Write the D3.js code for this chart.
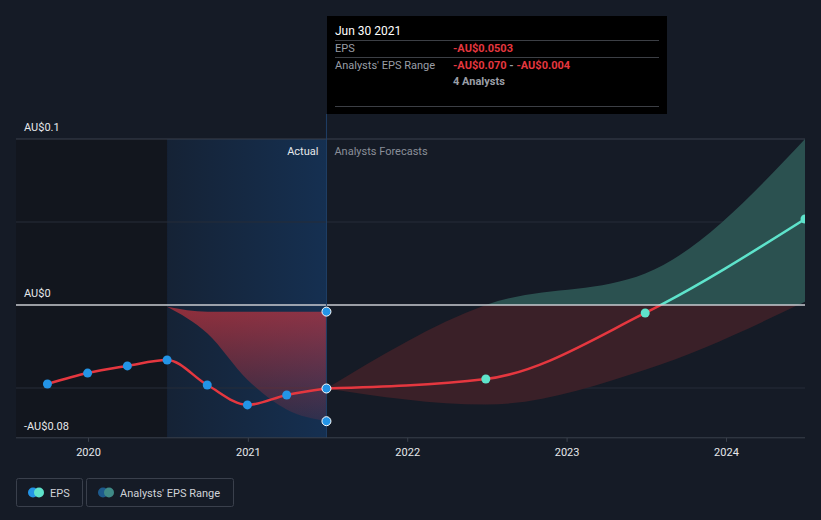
<!DOCTYPE html>
<html>
<head>
<meta charset="utf-8">
<script src="https://cdn.jsdelivr.net/npm/d3@7"></script>
<style>
	body { margin: 0; background: #151b26; }
	svg { display: block; font-family: Roboto, 'Noto Sans', sans-serif; }
</style>
</head>
<body>
<svg id="chart" width="821" height="520"></svg>
<script>
// actual EPS, quarterly
const actualDates = ['2019-09-30', '2019-12-31', '2020-03-31', '2020-06-30', '2020-09-30', '2020-12-31', '2021-03-31', '2021-06-30'];
const actualEps = [-0.0476, -0.041, -0.0367, -0.0331, -0.0482, -0.0602, -0.0542, -0.0503];

// past analysts range
const pastRangeDates = ['2020-06-30', '2020-09-30', '2020-12-31', '2021-03-31', '2021-06-30'];
const pastLow = [-0.001, -0.017, -0.045, -0.063, -0.070];
const pastHigh = [-0.001, -0.004, -0.004, -0.004, -0.004];

// forecasts
const forecastDates = ['2021-06-30', '2022-06-30', '2023-06-30', '2024-06-30'];
const forecastEps = [-0.0503, -0.0446, -0.0048, 0.0518];
const forecastLow = [-0.0503, -0.060, -0.039, 0.002];
const forecastHigh = [-0.0503, 0.000, 0.019, 0.100];

const yearTicks = ['2020', '2021', '2022', '2023', '2024'];
const gridValues = [0.1, 0.05, -0.05];
const labelValues = [0.1, 0, -0.08];

const parse = d3.timeParse('%Y-%m-%d');
const fmtAU = v => v === 0 ? 'AU$0' : (v < 0 ? '-' : '') + 'AU$' + Math.abs(v);

const left = 16, right = 805;
const x = d3.scaleTime()
	.domain([parse('2019-07-20'), parse('2024-06-30')])
	.range([left, right]);
const y = d3.scaleLinear().domain([-0.08, 0.1]).range([437.8, 139]);

const svg = d3.select('#chart');
const defs = svg.append('defs');

defs.append('clipPath').attr('id', 'plot')
	.append('rect').attr('x', left).attr('y', 100).attr('width', right - left).attr('height', 338);
defs.append('clipPath').attr('id', 'above')
	.append('rect').attr('x', left).attr('y', 0).attr('width', right - left).attr('height', y(0));
defs.append('clipPath').attr('id', 'below')
	.append('rect').attr('x', left).attr('y', y(0)).attr('width', right - left).attr('height', 300);

const blueGrad = defs.append('linearGradient').attr('id', 'blueGrad');
blueGrad.append('stop').attr('offset', '0%').attr('stop-color', '#1565c0').attr('stop-opacity', 0.1);
blueGrad.append('stop').attr('offset', '100%').attr('stop-color', '#1565c0').attr('stop-opacity', 0.28);

const redGrad = defs.append('linearGradient').attr('id', 'redGrad')
	.attr('gradientUnits', 'userSpaceOnUse')
	.attr('x1', 0).attr('x2', 0).attr('y1', y(0)).attr('y2', y(-0.07));
redGrad.append('stop').attr('offset', '0%').attr('stop-color', '#e5373f').attr('stop-opacity', 0.6);
redGrad.append('stop').attr('offset', '100%').attr('stop-color', '#e5373f').attr('stop-opacity', 0.12);

// background bands
const splitDate = parse('2020-06-30');
const nowDate = parse('2021-06-30');
svg.append('rect')
	.attr('x', left).attr('y', y(0.1))
	.attr('width', x(splitDate) - left).attr('height', y(-0.08) - y(0.1))
	.attr('fill', '#12161e');
svg.append('rect')
	.attr('x', x(splitDate)).attr('y', y(0.1))
	.attr('width', x(nowDate) - x(splitDate)).attr('height', y(-0.08) - y(0.1))
	.attr('fill', 'url(#blueGrad)');

// grid
svg.selectAll('.grid')
	.data(gridValues)
	.enter().append('line')
		.attr('x1', left).attr('x2', right)
		.attr('y1', d => y(d)).attr('y2', d => y(d))
		.attr('stroke', d => d === 0.1 ? '#3a404c' : '#262c38')
		.attr('stroke-width', 1);

// ranges
const toRows = (dates, lo, hi) => dates.map((d, i) => ({ date: parse(d), lo: lo[i], hi: hi[i] }));
const area = d3.area()
	.x(d => x(d.date))
	.y0(d => y(d.lo))
	.y1(d => y(d.hi))
	.curve(d3.curveMonotoneX);

const plot = svg.append('g').attr('clip-path', 'url(#plot)');

plot.append('path')
	.datum(toRows(pastRangeDates, pastLow, pastHigh))
	.attr('d', area)
	.attr('fill', 'url(#redGrad)');

const fRows = toRows(forecastDates, forecastLow, forecastHigh);
plot.append('g').attr('clip-path', 'url(#above)')
	.append('path').datum(fRows).attr('d', area).attr('fill', '#2b5150');
plot.append('g').attr('clip-path', 'url(#below)')
	.append('path').datum(fRows).attr('d', area).attr('fill', '#3a2028');

// zero line
svg.append('line')
	.attr('x1', left).attr('x2', right)
	.attr('y1', y(0)).attr('y2', y(0))
	.attr('stroke', '#c9cbd0').attr('stroke-width', 1.5);

// now line
svg.append('line')
	.attr('x1', x(nowDate)).attr('x2', x(nowDate))
	.attr('y1', 114).attr('y2', y(-0.08))
	.attr('stroke', '#1f3f66').attr('stroke-width', 1);

// x axis
svg.append('line')
	.attr('x1', left).attr('x2', right)
	.attr('y1', y(-0.08)).attr('y2', y(-0.08))
	.attr('stroke', '#3a404c');
const xAxis = svg.append('g')
	.attr('transform', `translate(0,${y(-0.08)})`)
	.call(d3.axisBottom(x)
		.tickValues(yearTicks.map(t => parse(t + '-01-01')))
		.tickFormat(d3.timeFormat('%Y'))
		.tickSize(4)
		.tickPadding(6));
xAxis.select('.domain').remove();
xAxis.selectAll('line').attr('stroke', '#3a404c');
xAxis.selectAll('text').attr('fill', '#e6e8eb').attr('font-size', 11).attr('font-family', 'Roboto');

// y labels
svg.selectAll('.ylab')
	.data(labelValues)
	.enter().append('text')
		.attr('x', 24).attr('y', d => y(d) - 8)
		.attr('fill', '#e6e8eb').attr('font-size', 11)
		.text(fmtAU);

svg.append('text').attr('x', x(nowDate) - 8).attr('y', 155)
	.attr('text-anchor', 'end').attr('fill', '#e6e8eb').attr('font-size', 11).text('Actual');
svg.append('text').attr('x', x(nowDate) + 8).attr('y', 155)
	.attr('fill', '#8a8f99').attr('font-size', 11).text('Analysts Forecasts');

// eps lines
const line = d3.line().x(d => x(d.date)).y(d => y(d.v)).curve(d3.curveMonotoneX);
const aRows = actualDates.map((d, i) => ({ date: parse(d), v: actualEps[i] }));
const feRows = forecastDates.map((d, i) => ({ date: parse(d), v: forecastEps[i] }));

plot.append('path').datum(aRows).attr('d', line)
	.attr('fill', 'none').attr('stroke', '#e5373f').attr('stroke-width', 2.5);
plot.append('g').attr('clip-path', 'url(#below)')
	.append('path').datum(feRows).attr('d', line)
	.attr('fill', 'none').attr('stroke', '#e5373f').attr('stroke-width', 2.5);
plot.append('g').attr('clip-path', 'url(#above)')
	.append('path').datum(feRows).attr('d', line)
	.attr('fill', 'none').attr('stroke', '#5ee3cb').attr('stroke-width', 2.5);

// dots
plot.selectAll('.adot')
	.data(aRows.slice(0, -1))
	.enter().append('circle')
		.attr('cx', d => x(d.date)).attr('cy', d => y(d.v)).attr('r', 4.5)
		.attr('fill', '#2394e6');
plot.selectAll('.fdot')
	.data(feRows.slice(1))
	.enter().append('circle')
		.attr('cx', d => x(d.date)).attr('cy', d => y(d.v)).attr('r', 4.5)
		.attr('fill', '#5ee3cb');
const nowVals = [pastHigh[pastHigh.length - 1], actualEps[actualEps.length - 1], pastLow[pastLow.length - 1]];
svg.selectAll('.ndot')
	.data(nowVals)
	.enter().append('circle')
		.attr('cx', x(nowDate)).attr('cy', d => y(d)).attr('r', 4.5)
		.attr('fill', '#2394e6').attr('stroke', '#ffffff').attr('stroke-width', 1);

// tooltip
const tip = svg.append('g');
tip.append('rect').attr('x', 327).attr('y', 16).attr('width', 340).attr('height', 98).attr('fill', '#000');
tip.append('text').attr('x', 335).attr('y', 35).attr('fill', '#fff').attr('font-size', 12).text('Jun 30 2021');
[40, 57, 106].forEach(ly => {
	tip.append('line').attr('x1', 335).attr('x2', 659).attr('y1', ly + 0.5).attr('y2', ly + 0.5)
		.attr('stroke', '#3c3f45');
});
tip.append('text').attr('x', 335).attr('y', 52).attr('fill', '#9a9ea6').attr('font-size', 11).text('EPS');
tip.append('text').attr('x', 453).attr('y', 52).attr('fill', '#e5373f').attr('font-size', 11)
	.attr('font-weight', 'bold').text(fmtAU(actualEps[actualEps.length - 1]));
tip.append('text').attr('x', 335).attr('y', 69).attr('fill', '#9a9ea6').attr('font-size', 11).text("Analysts' EPS Range");
const rangeText = tip.append('text').attr('x', 453).attr('y', 69).attr('font-size', 11).attr('font-weight', 'bold');
rangeText.append('tspan').attr('fill', '#e5373f').text('-AU$' + Math.abs(pastLow[pastLow.length - 1]).toFixed(3));
rangeText.append('tspan').attr('fill', '#9a9ea6').text(' - ');
rangeText.append('tspan').attr('fill', '#e5373f').text('-AU$' + Math.abs(pastHigh[pastHigh.length - 1]).toFixed(3));
tip.append('text').attr('x', 453).attr('y', 85).attr('fill', '#9a9ea6').attr('font-size', 11)
	.attr('font-weight', 'bold').text('4 Analysts');

// legend
const legendItems = [
	{ label: 'EPS', x: 16, w: 66, c1: '#2394e6', c2: '#5ee3cb' },
	{ label: "Analysts' EPS Range", x: 86, w: 147, c1: '#1d5a8c', c2: '#3f8a86' },
];
const leg = svg.selectAll('.leg')
	.data(legendItems)
	.enter().append('g')
		.attr('transform', d => `translate(${d.x},478)`);
leg.append('rect').attr('x', 0.5).attr('y', 0.5).attr('width', d => d.w).attr('height', 28)
	.attr('rx', 2).attr('fill', 'none').attr('stroke', '#3a404c');
leg.append('circle').attr('cx', 17).attr('cy', 14.5).attr('r', 5).attr('fill', d => d.c1);
leg.append('circle').attr('cx', 23).attr('cy', 14.5).attr('r', 5).attr('fill', d => d.c2);
leg.append('text').attr('x', 34).attr('y', 18.5).attr('fill', '#d0d3d8').attr('font-size', 11).text(d => d.label);
</script>
</body>
</html>
